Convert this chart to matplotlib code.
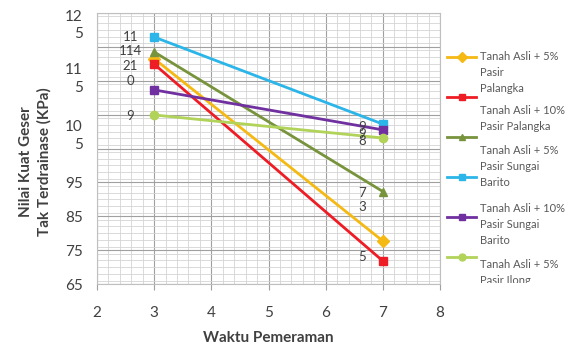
import matplotlib.pyplot as plt
from matplotlib.ticker import MultipleLocator
from matplotlib.transforms import blended_transform_factory

plt.rcParams['font.family'] = ['Lato', 'DejaVu Sans']

# waktu pemeraman (hari)
waktu = [3, 7]

# nilai kuat geser tak terdrainase (kPa)
kuning = [131.5, 77.7]
merah = [129.9, 71.8]
hijau = [133.5, 92.3]
biru = [137.9, 112.2]
ungu = [122.3, 110.5]
hijau_muda = [114.9, 108.1]

warna = ['#F5B914', '#EE1C24', '#77933C', '#2CB5E8', '#7030A0', '#B2D35A']
penanda = ['D', 's', '^', 's', 's', 'o']

# label data yang terpotong di kiri (hari 3) dan kanan (hari 7)
label_kiri = ['', '21', '114', '11', '0', '9']
label_kanan = ['3', '5', '7', '9', '9', '8']

# teks legenda
legenda = [
    ['Tanah Asli + 5%', 'Pasir', 'Palangka'],
    ['Tanah Asli + 10%', 'Pasir Palangka'],
    ['Tanah Asli + 5%', 'Pasir Sungai', 'Barito'],
    ['Tanah Asli + 10%', 'Pasir Sungai', 'Barito'],
    ['Tanah Asli + 5%', 'Pasir Ilong'],
]

# label sumbu y yang terbungkus dua baris
label_y_atas = ['10\n5', '11\n5', '12\n5']

semua = [kuning, merah, hijau, biru, ungu, hijau_muda]

fig = plt.figure(figsize=(5.8, 3.47), dpi=100)
ax = fig.add_axes([97 / 580, 63 / 347, 343 / 580, 271 / 347])

for nilai, c, m in zip(semua, warna, penanda):
    ax.plot(waktu, nilai, color=c, lw=2.0, marker=m, ms=6, zorder=3)

# geser label (piksel) supaya posisinya seperti di grafik
geser_kiri = [0, -2, 1, 0, 9, -1]
geser_kanan = [34, 4, -1, -3, -4, -3]
for nilai, lk, lkn, dk, dkn in zip(semua, label_kiri, label_kanan, geser_kiri, geser_kanan):
    if lk:
        ax.annotate(lk, (waktu[0], nilai[0]), xytext=(-24, dk), textcoords='offset pixels',
                    ha='center', va='center', fontsize=9.5, color='#404040', zorder=4)
    ax.annotate(lkn, (waktu[1], nilai[1]), xytext=(-21, dkn), textcoords='offset pixels',
                ha='center', va='center', fontsize=9.5, color='#404040', zorder=4)

ax.set_xlim(2, 8)
ax.set_ylim(65, 145)
ax.xaxis.set_major_locator(MultipleLocator(1))
ax.xaxis.set_minor_locator(MultipleLocator(0.2))
ax.yaxis.set_major_locator(MultipleLocator(10))
ax.yaxis.set_minor_locator(MultipleLocator(2))
ax.grid(which='major', color='#A0A0A0', lw=0.8)
ax.grid(which='minor', color='#D4D4D4', lw=0.6)
ax.set_axisbelow(True)

ax.set_yticks(range(65, 146, 10),
              labels=['65', '75', '85', '95', '', '', '', '', ''])
trans = blended_transform_factory(ax.transAxes, ax.transData)
for teks, yv in zip(label_y_atas, [108.7, 125.5, 141.3]):
    ax.text(-0.041, yv, teks, transform=trans, ha='right', va='center',
            ma='right', fontsize=11, color='#404040', linespacing=1.35)

ax.tick_params(axis='y', length=0, pad=10, labelsize=11, labelcolor='#404040')
ax.tick_params(axis='x', which='major', length=4, color='#A0A0A0', pad=12,
               labelsize=11, labelcolor='#404040')
ax.tick_params(which='minor', length=0)
for sp in ax.spines.values():
    sp.set_color('#BFBFBF')

ax.set_xlabel('Waktu Pemeraman', fontsize=11, fontweight='bold', color='#404040', labelpad=8)
ax.set_ylabel('Nilai Kuat Geser\nTak Terdrainase (KPa)', fontsize=11, fontweight='bold',
              color='#404040', linespacing=1.35)
ax.yaxis.set_label_coords(-0.133, 0.45)

# legenda di sisi kanan, koordinat dalam piksel
lg = fig.add_axes([447 / 580, (347 - 283) / 347, 133 / 580, 240 / 347])
lg.set_xlim(0, 133)
lg.set_ylim(283, 43)
lg.axis('off')
for i, (c, m) in enumerate(zip(warna, penanda)):
    yy = 57 + i * 40
    lg.plot([0, 29], [yy, yy], color=c, lw=2.0, clip_on=False)
    lg.plot([14.5], [yy], color=c, marker=m, ms=5, clip_on=False)
for awal, baris in zip([57, 110, 150, 208, 265], legenda):
    for j, t in enumerate(baris):
        lg.text(33, awal + j * 16, t, ha='left', va='center', fontsize=8,
                color='#595959', clip_on=True)

fig.savefig('out.png', dpi=100)
